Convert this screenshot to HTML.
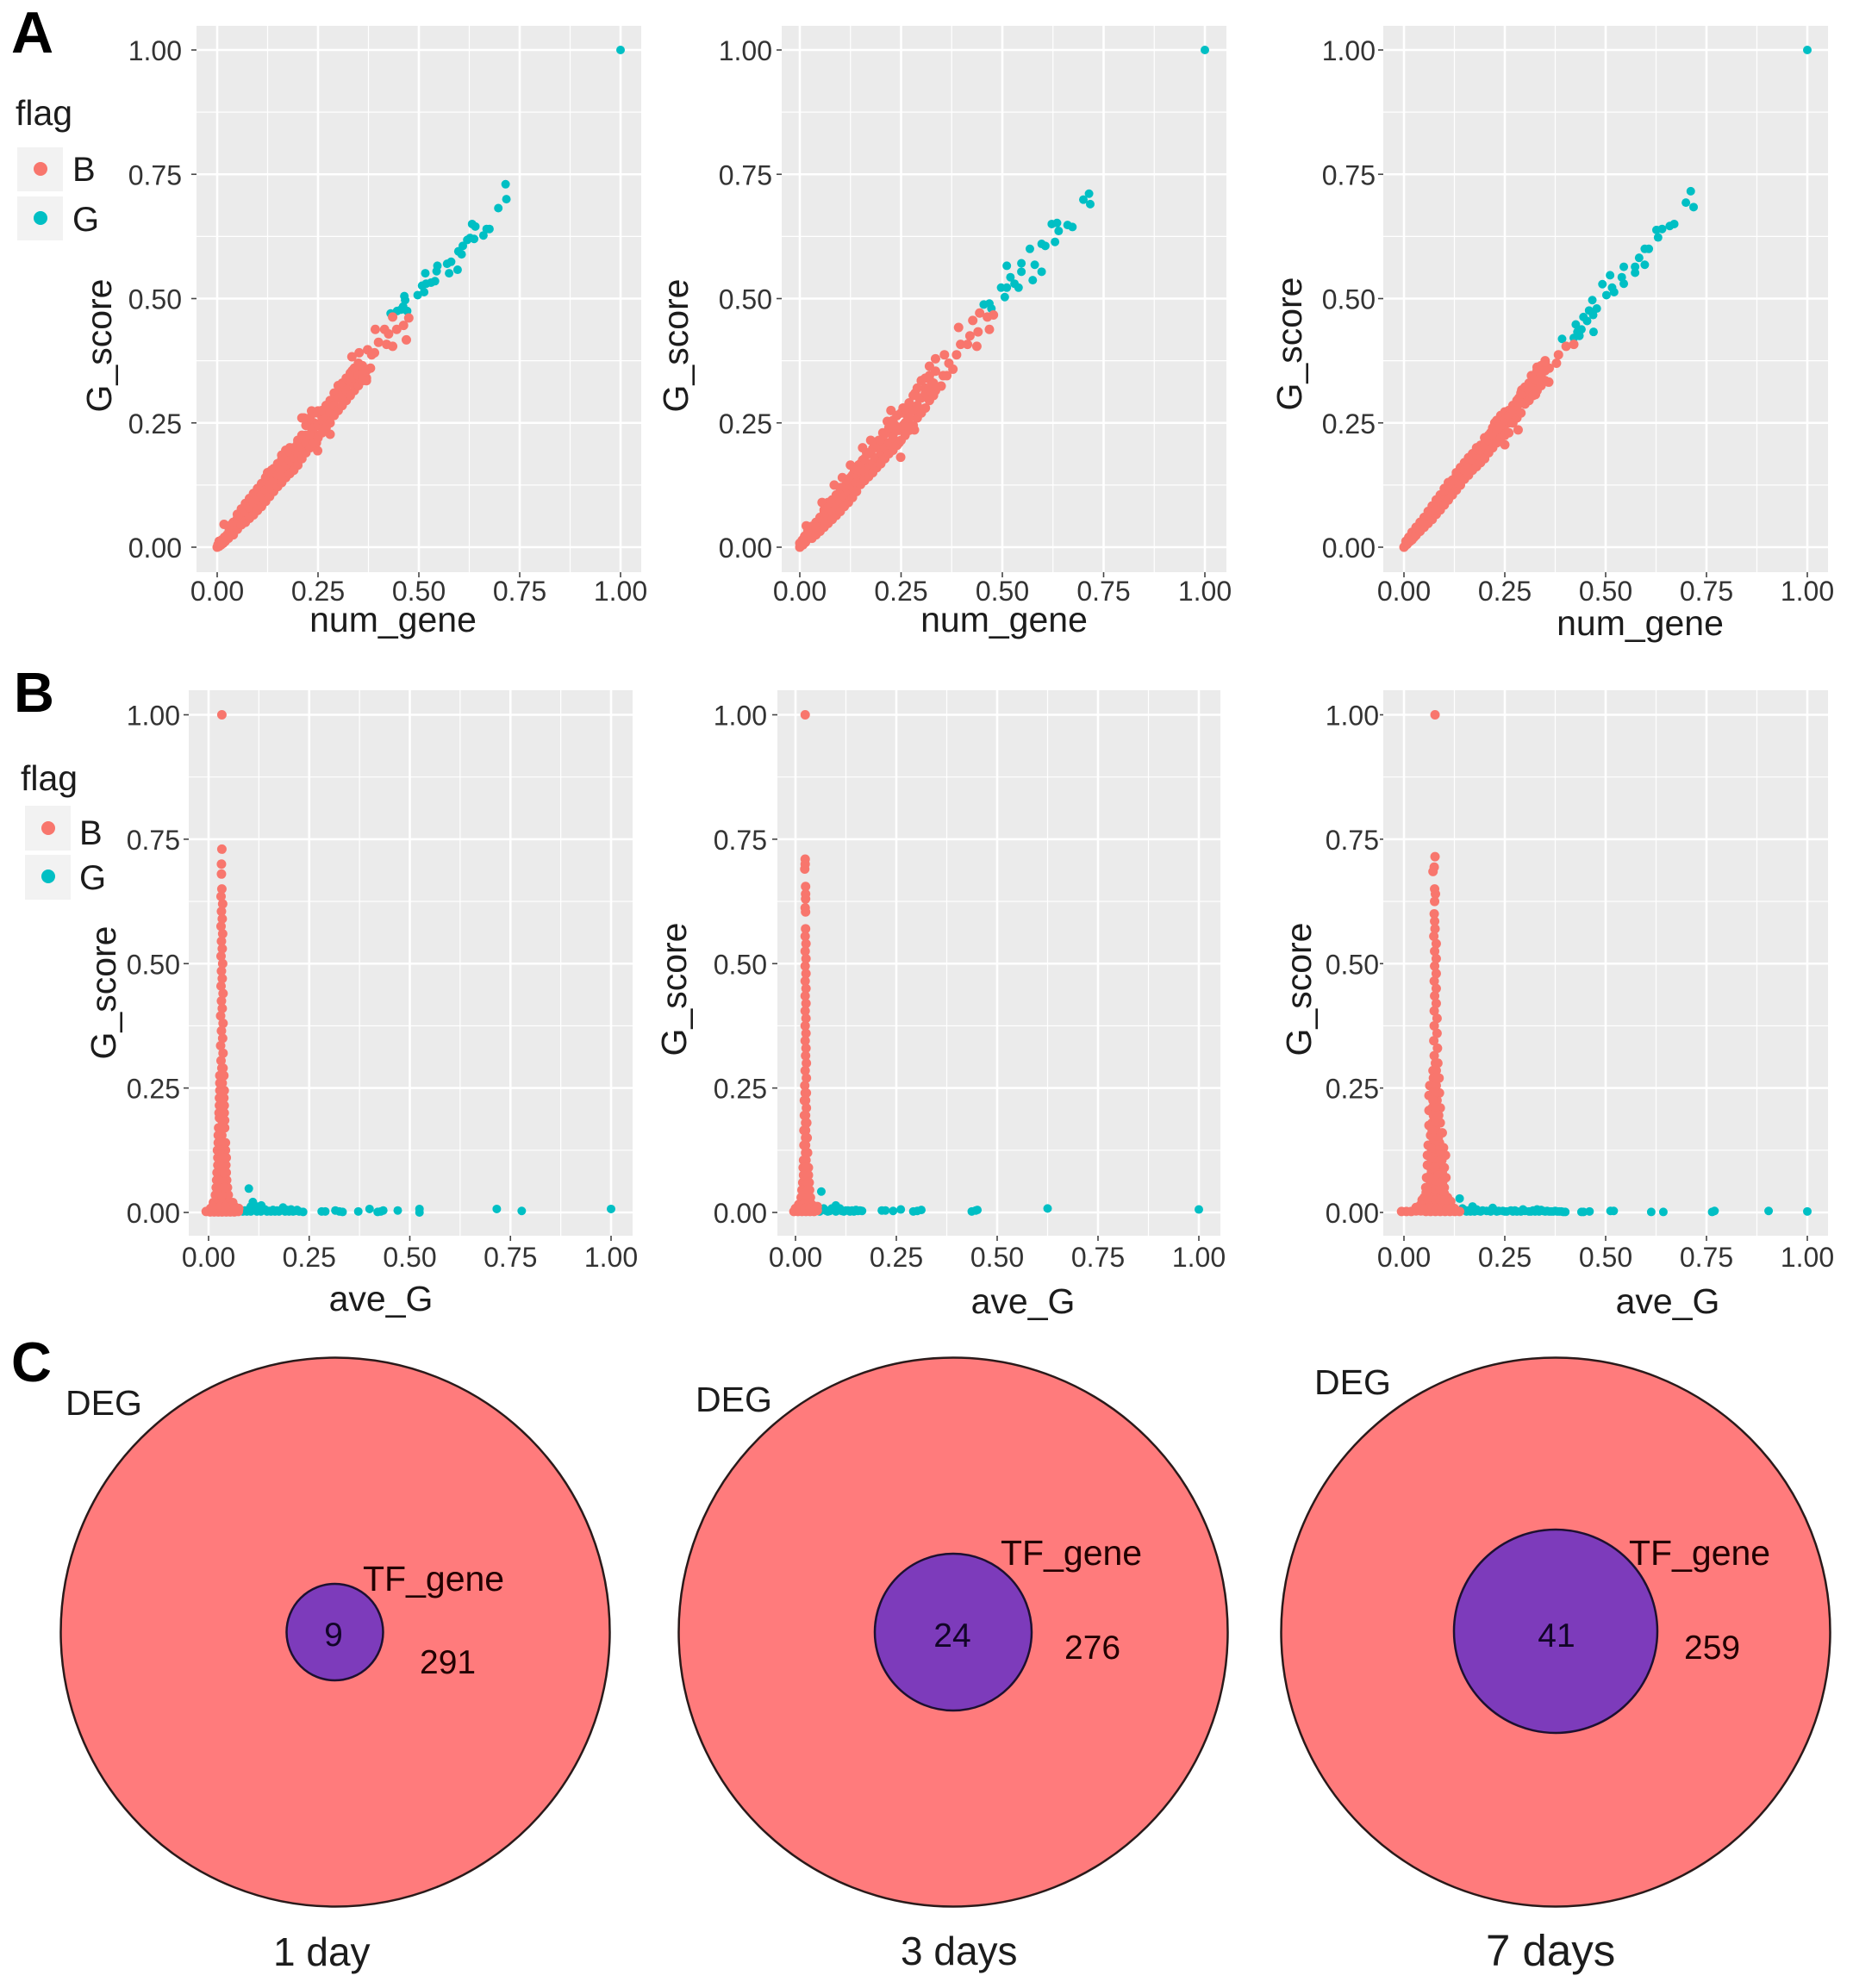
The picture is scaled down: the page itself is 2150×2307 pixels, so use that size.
<!DOCTYPE html>
<html lang="en">
<head>
<meta charset="utf-8">
<title>G_score scatter plots and DEG / TF_gene Venn diagrams</title>
<style>
html,body{margin:0;padding:0;background:#fff;}
svg{display:block;font-family:"Liberation Sans",Arial,sans-serif;}
.t{fill:#1c1c1c;}
.tick{fill:#333;font-size:32px;}
</style>
</head>
<body>
<svg id="figure" xmlns="http://www.w3.org/2000/svg" width="2150" height="2307" viewBox="0 0 2150 2307">
<rect x="0" y="0" width="2150" height="2307" fill="#fff"/>
<g id="plots"></g>

<text x="13" y="61" font-size="68" font-weight="bold" fill="#000">A</text>
<text x="16" y="826" font-size="65" font-weight="bold" fill="#000">B</text>
<text x="13" y="1603" font-size="65" font-weight="bold" fill="#000">C</text>

<g>
<text class="t" x="18" y="145" font-size="41">flag</text>
<rect x="20" y="171" width="53" height="51" fill="#f2f2f2"/>
<rect x="20" y="228" width="53" height="51" fill="#f2f2f2"/>
<circle cx="47" cy="196" r="8" fill="#F8766D"/>
<circle cx="47" cy="253" r="8" fill="#00BFC4"/>
<text class="t" x="84" y="210" font-size="40">B</text>
<text class="t" x="84" y="268" font-size="40">G</text>
</g>
<g>
<text class="t" x="24" y="917" font-size="41">flag</text>
<rect x="29" y="935" width="53" height="52" fill="#f2f2f2"/>
<rect x="29" y="992" width="53" height="52" fill="#f2f2f2"/>
<circle cx="56" cy="961" r="8" fill="#F8766D"/>
<circle cx="56" cy="1017" r="8" fill="#00BFC4"/>
<text class="t" x="92" y="980" font-size="40">B</text>
<text class="t" x="92" y="1032" font-size="40">G</text>
</g>

<text class="t" x="456" y="733" font-size="41" text-anchor="middle">num_gene</text>
<text class="t" x="1165" y="733" font-size="41" text-anchor="middle">num_gene</text>
<text class="t" x="1903" y="737" font-size="41" text-anchor="middle">num_gene</text>
<text class="t" font-size="41" text-anchor="middle" transform="translate(129,401) rotate(-90)">G_score</text>
<text class="t" font-size="41" text-anchor="middle" transform="translate(798,401) rotate(-90)">G_score</text>
<text class="t" font-size="41" text-anchor="middle" transform="translate(1510,399) rotate(-90)">G_score</text>

<text class="t" x="442" y="1521" font-size="41" text-anchor="middle">ave_G</text>
<text class="t" x="1187" y="1524" font-size="41" text-anchor="middle">ave_G</text>
<text class="t" x="1935" y="1524" font-size="41" text-anchor="middle">ave_G</text>
<text class="t" font-size="41" text-anchor="middle" transform="translate(134,1152) rotate(-90)">G_score</text>
<text class="t" font-size="41" text-anchor="middle" transform="translate(796,1148) rotate(-90)">G_score</text>
<text class="t" font-size="41" text-anchor="middle" transform="translate(1521,1148) rotate(-90)">G_score</text>

<g>
<circle cx="389" cy="1894" r="318.5" fill="#FF7B7C" stroke="#2a1a1a" stroke-width="2.5"/>
<circle cx="388.5" cy="1894" r="56" fill="#7D3BBB" stroke="#1d1030" stroke-width="2.5"/>
<text class="t" x="76" y="1642" font-size="41">DEG</text>
<text x="421" y="1846" font-size="41" fill="#200">TF_gene</text>
<text x="387" y="1910" font-size="39" text-anchor="middle" fill="#120528">9</text>
<text x="487" y="1942" font-size="39" fill="#200">291</text>
<text class="t" x="317" y="2281" font-size="46">1 day</text>
</g>
<g>
<circle cx="1106" cy="1894" r="318.5" fill="#FF7B7C" stroke="#2a1a1a" stroke-width="2.5"/>
<circle cx="1106" cy="1894" r="91" fill="#7D3BBB" stroke="#1d1030" stroke-width="2.5"/>
<text class="t" x="807" y="1638" font-size="41">DEG</text>
<text x="1161" y="1816" font-size="41" fill="#200">TF_gene</text>
<text x="1105" y="1911" font-size="39" text-anchor="middle" fill="#120528">24</text>
<text x="1235" y="1925" font-size="39" fill="#200">276</text>
<text class="t" x="1045" y="2280" font-size="46">3 days</text>
</g>
<g>
<circle cx="1805" cy="1894" r="318.5" fill="#FF7B7C" stroke="#2a1a1a" stroke-width="2.5"/>
<circle cx="1805" cy="1893" r="118" fill="#7D3BBB" stroke="#1d1030" stroke-width="2.5"/>
<text class="t" x="1525" y="1618" font-size="41">DEG</text>
<text x="1890" y="1816" font-size="41" fill="#200">TF_gene</text>
<text x="1806" y="1911" font-size="39" text-anchor="middle" fill="#120528">41</text>
<text x="1954" y="1925" font-size="39" fill="#200">259</text>
<text class="t" x="1724" y="2281" font-size="51">7 days</text>
</g>
</svg>

<script>
const tickValues = [0, 0.25, 0.5, 0.75, 1];
const tickLabels = ['0.00', '0.25', '0.50', '0.75', '1.00'];
const minorValues = [0.125, 0.375, 0.625, 0.875];

const a1Teal = [[1,1],[.715,.73],[.717,.70],[.697,.682],[.632,.65],[.64,.645],[.668,.64],[.675,.64],[.66,.627],[.627,.622],[.637,.62],[.62,.618],[.609,.606],[.598,.595],[.606,.589],[.58,.574],[.57,.57],[.546,.566],[.575,.551],[.596,.558],[.544,.555],[.516,.551],[.54,.535],[.518,.53],[.508,.526],[.53,.532],[.513,.513],[.497,.507],[.464,.505],[.466,.497],[.461,.484],[.471,.475],[.446,.475],[.43,.47],[.456,.478]];
const a1Red = [[.475,.461],[.462,.446],[.469,.417],[.435,.463],[.392,.438],[.415,.438],[.425,.429],[.445,.438],[.40,.412],[.42,.408],[.435,.404],[.373,.397],[.352,.391],[.334,.383],[.383,.387],[.39,.391],[.38,.36],[.37,.34],[.365,.35],[.355,.335],[.35,.36],[.34,.315],[.345,.34],[.335,.355],[.33,.33],[.325,.305],[.32,.33],[.31,.30],[.305,.32],[.30,.28],[.29,.295],[.285,.27],[.28,.227],[.27,.285],[.275,.25],[.26,.26],[.255,.245],[.25,.27],[.249,.194],[.246,.21],[.245,.225],[.24,.25],[.234,.274],[.235,.235],[.225,.21],[.22,.225],[.215,.26],[.21,.26],[.21,.205],[.215,.19],[.20,.18],[.20,.215],[.195,.195],[.19,.17],[.185,.19],[.18,.16],[.18,.2],[.175,.175],[.17,.15],[.17,.195],[.165,.17],[.16,.135],[.16,.185],[.155,.15],[.15,.125],[.15,.165],[.145,.14],[.14,.115],[.135,.13],[.135,.155],[.125,.15],[.13,.105],[.125,.115],[.12,.095],[.12,.135],[.115,.105],[.11,.085],[.11,.12],[.105,.095],[.10,.075],[.10,.108],[.095,.085],[.09,.066],[.09,.098],[.085,.075],[.08,.058],[.08,.086],[.075,.066],[.07,.05],[.07,.076],[.065,.058],[.06,.048],[.06,.066],[.055,.05],[.05,.04],[.05,.058],[.045,.05],[.04,.03],[.04,.04],[.035,.026],[.03,.034],[.028,.018],[.025,.025],[.02,.012],[.018,.02],[.017,.046],[.015,.008],[.012,.015],[.01,.005],[.005,.012],[.005,.002],[.002,.005],[0,0]];
const a1RedDense = [[.03,.022],[.03,.04],[.035,.03],[.035,.045],[.04,.025],[.04,.05],[.05,.036],[.05,.05],[.05,.066],[.06,.045],[.06,.06],[.06,.077],[.07,.052],[.07,.07],[.07,.088],[.08,.06],[.08,.08],[.08,.098],[.09,.065],[.09,.09],[.09,.108],[.10,.074],[.10,.095],[.10,.118],[.11,.082],[.11,.105],[.11,.128],[.12,.092],[.12,.115],[.12,.14],[.13,.102],[.13,.125],[.13,.15],[.14,.112],[.14,.135],[.14,.158],[.15,.122],[.15,.145],[.15,.168],[.16,.13],[.16,.155],[.16,.176],[.17,.14],[.17,.165],[.17,.185],[.18,.148],[.18,.175],[.18,.192],[.19,.155],[.19,.18],[.19,.2],[.20,.165],[.20,.188],[.20,.21],[.21,.178],[.21,.2],[.21,.225],[.22,.19],[.22,.21],[.22,.245],[.23,.2],[.23,.225],[.23,.26],[.24,.21],[.24,.24],[.24,.27],[.25,.22],[.25,.245],[.25,.274],[.26,.23],[.26,.255],[.26,.275],[.27,.24],[.27,.26],[.27,.28],[.28,.25],[.28,.27],[.28,.295],[.29,.265],[.29,.285],[.29,.31],[.30,.275],[.30,.3],[.30,.325],[.31,.285],[.31,.305],[.31,.33],[.32,.295],[.32,.315],[.32,.34],[.33,.305],[.33,.33],[.33,.35],[.34,.325],[.34,.34],[.34,.36],[.35,.325],[.35,.345],[.35,.37],[.36,.335],[.36,.35],[.36,.365],[.37,.335],[.37,.355]];

const a2Teal = [[1,1],[.714,.711],[.70,.699],[.717,.69],[.673,.644],[.661,.648],[.635,.652],[.622,.65],[.639,.636],[.63,.614],[.606,.606],[.597,.61],[.568,.60],[.58,.568],[.575,.537],[.597,.554],[.547,.571],[.547,.554],[.511,.566],[.52,.543],[.53,.53],[.54,.522],[.497,.522],[.511,.522],[.506,.503],[.454,.488],[.468,.49],[.473,.48]];
const a2Red = [[.478,.467],[.463,.463],[.444,.471],[.427,.456],[.468,.438],[.392,.442],[.44,.433],[.42,.425],[.397,.408],[.437,.404],[.414,.408],[.387,.387],[.357,.387],[.335,.379],[.32,.364],[.368,.37],[.378,.358],[.354,.345],[.335,.354],[.363,.345],[.349,.324],[.325,.332],[.31,.32],[.335,.315],[.30,.335],[.295,.30],[.285,.31],[.28,.28],[.29,.27],[.27,.29],[.265,.265],[.283,.236],[.255,.28],[.255,.245],[.249,.181],[.245,.21],[.245,.235],[.24,.265],[.235,.245],[.225,.275],[.23,.225],[.216,.253],[.22,.24],[.215,.21],[.205,.23],[.20,.195],[.195,.215],[.185,.18],[.185,.205],[.175,.215],[.175,.19],[.165,.165],[.165,.19],[.155,.2],[.155,.175],[.15,.145],[.145,.165],[.14,.135],[.135,.155],[.125,.165],[.13,.125],[.125,.14],[.115,.11],[.115,.135],[.105,.14],[.105,.095],[.10,.12],[.095,.085],[.09,.105],[.085,.125],[.085,.08],[.08,.095],[.07,.065],[.07,.09],[.06,.052],[.06,.075],[.055,.09],[.05,.045],[.05,.06],[.04,.033],[.04,.05],[.03,.026],[.03,.042],[.022,.018],[.02,.032],[.016,.043],[.014,.01],[.012,.022],[.008,.005],[.006,.014],[.002,.002],[0,.008],[0,0]];
const a2RedDense = [[.03,.018],[.03,.03],[.04,.025],[.04,.04],[.05,.032],[.05,.059],[.06,.04],[.06,.055],[.06,.068],[.07,.048],[.07,.063],[.07,.08],[.08,.056],[.08,.072],[.08,.09],[.09,.064],[.09,.082],[.09,.102],[.10,.072],[.10,.092],[.10,.114],[.11,.082],[.11,.102],[.11,.122],[.12,.09],[.12,.11],[.12,.132],[.13,.1],[.13,.12],[.13,.145],[.14,.112],[.14,.13],[.14,.156],[.15,.126],[.15,.168],[.16,.134],[.16,.152],[.16,.178],[.17,.142],[.17,.16],[.17,.188],[.18,.15],[.18,.17],[.18,.198],[.19,.16],[.19,.18],[.19,.206],[.20,.168],[.20,.19],[.20,.215],[.21,.178],[.21,.2],[.21,.228],[.22,.188],[.22,.21],[.22,.24],[.23,.195],[.23,.22],[.23,.255],[.24,.205],[.24,.235],[.24,.265],[.25,.215],[.25,.24],[.25,.27],[.26,.225],[.26,.25],[.26,.278],[.27,.235],[.27,.26],[.27,.29],[.28,.245],[.28,.275],[.28,.305],[.29,.26],[.29,.285],[.29,.32],[.30,.27],[.30,.3],[.30,.335],[.31,.28],[.31,.31],[.31,.34],[.32,.295],[.32,.32],[.32,.345],[.33,.305],[.33,.33]];

const a3Teal = [[1,1],[.711,.716],[.699,.693],[.718,.684],[.67,.65],[.659,.646],[.64,.64],[.626,.638],[.63,.623],[.607,.60],[.597,.6],[.583,.582],[.597,.568],[.573,.564],[.573,.552],[.545,.564],[.54,.543],[.511,.547],[.492,.529],[.516,.522],[.545,.53],[.502,.507],[.521,.513],[.467,.497],[.478,.48],[.459,.476],[.469,.467],[.47,.433],[.445,.463],[.426,.448],[.43,.433],[.44,.438],[.392,.419],[.421,.421],[.454,.455],[.435,.425]];
const a3Red = [[.421,.408],[.402,.404],[.383,.387],[.378,.37],[.35,.375],[.36,.36],[.33,.362],[.359,.332],[.316,.345],[.34,.335],[.292,.316],[.326,.307],[.33,.35],[.31,.325],[.30,.30],[.285,.30],[.28,.28],[.283,.236],[.27,.285],[.27,.265],[.25,.206],[.26,.275],[.26,.25],[.25,.265],[.25,.235],[.24,.255],[.235,.23],[.225,.25],[.225,.225],[.215,.23],[.21,.205],[.20,.22],[.20,.195],[.19,.205],[.19,.18],[.18,.2],[.18,.175],[.17,.185],[.165,.16],[.16,.18],[.155,.15],[.15,.17],[.145,.14],[.14,.16],[.135,.13],[.13,.15],[.125,.12],[.12,.135],[.115,.11],[.11,.13],[.105,.10],[.10,.118],[.095,.09],[.09,.105],[.085,.08],[.08,.095],[.075,.07],[.07,.083],[.065,.06],[.06,.072],[.055,.05],[.05,.06],[.045,.04],[.04,.05],[.035,.03],[.03,.04],[.025,.02],[.02,.03],[.015,.012],[.012,.02],[.008,.006],[.005,.012],[.002,.002],[0,0]];
const a3RedDense = [[.02,.015],[.03,.024],[.03,.038],[.04,.032],[.04,.046],[.05,.04],[.05,.052],[.06,.048],[.06,.063],[.07,.056],[.07,.075],[.08,.066],[.08,.085],[.08,.075],[.09,.075],[.09,.095],[.10,.085],[.10,.105],[.10,.112],[.11,.095],[.11,.115],[.11,.122],[.12,.105],[.12,.125],[.13,.115],[.13,.135],[.13,.145],[.14,.125],[.14,.145],[.14,.158],[.15,.137],[.15,.155],[.16,.145],[.16,.165],[.16,.178],[.17,.155],[.17,.175],[.17,.188],[.18,.162],[.18,.185],[.18,.196],[.19,.17],[.19,.195],[.19,.203],[.20,.178],[.20,.205],[.20,.21],[.21,.19],[.21,.215],[.21,.225],[.22,.2],[.22,.225],[.22,.24],[.23,.21],[.23,.235],[.23,.255],[.24,.22],[.24,.245],[.24,.265],[.25,.225],[.25,.255],[.25,.272],[.26,.23],[.26,.265],[.27,.25],[.27,.275],[.28,.26],[.28,.295],[.29,.27],[.29,.29],[.29,.31],[.30,.288],[.30,.322],[.31,.295],[.31,.315],[.31,.33],[.32,.305],[.32,.325],[.32,.34],[.33,.315],[.33,.335],[.33,.355],[.34,.325],[.34,.345],[.34,.365],[.35,.335],[.35,.355],[.35,.372]];

const b1Teal = [[.10,.048],[.11,.021],[.131,.014],[.09,.004],[.10,.006],[.115,.005],[.125,.004],[.14,.006],[.15,.003],[.16,.005],[.17,.004],[.185,.01],[.195,.005],[.205,.006],[.215,.003],[.225,.002],[.235,.001],[.281,.002],[.29,.002],[.315,.004],[.325,.002],[.333,.001],[.372,.002],[.40,.007],[.42,.001],[.428,.002],[.434,.004],[.47,.004],[.524,.007],[.524,0],[.716,.007],[.778,.003],[1,.007]];
const b1TealDense = [[.085,.002],[.095,.002],[.105,.012],[.105,.002],[.12,.012],[.12,.002],[.13,.002],[.135,.008],[.145,.002],[.155,.002],[.165,.002],[.175,.002],[.18,.004],[.19,.002],[.2,.002],[.21,.002],[.22,.005]];
const b1Red = [[.033,1],[.033,.73],[.032,.70],[.032,.68],[.033,.65],[.031,.635],[.035,.62],[.032,.605],[.034,.59],[.031,.575],[.035,.56],[.032,.545],[.034,.53],[.031,.515],[.035,.50],[.032,.485],[.034,.47],[.031,.455],[.036,.44],[.032,.425],[.034,.41],[.030,.395],[.036,.38],[.032,.365],[.035,.35],[.030,.335],[.036,.32],[.031,.305],[.036,.29],[.028,.275],[.038,.275],[.028,.26],[.034,.26],[.039,.245],[.028,.245],[.027,.23],[.038,.23],[.033,.215],[.027,.215],[.039,.2],[.026,.2],[.033,.185],[.04,.185],[.025,.17],[.04,.17],[.033,.155],[.024,.155],[.042,.14],[.024,.14],[.033,.125],[.042,.125],[.023,.11],[.033,.11],[.043,.095],[.023,.095],[.033,.08],[.021,.08],[.044,.08],[.033,.065],[.02,.065],[.045,.065],[.033,.05],[.019,.05],[.047,.05],[.027,.035],[.04,.035],[.017,.035],[.049,.035],[.024,.02],[.036,.02],[.012,.02],[.048,.02],[.06,.02],[.064,.012],[.005,.008],[.02,.008],[.035,.008],[.05,.008],[.07,.008],[-.006,.002],[.004,.001],[.014,.001],[.024,.001],[.034,.001],[.044,.001],[.054,.001],[.064,.001],[.074,.002]];
const b1RedDense = [[.033,.29],[.033,.275],[.033,.245],[.033,.23],[.033,.2],[.033,.17],[.033,.14],[.033,.095],[.033,.035],[.033,.02],[.027,.19],[.039,.215],[.028,.125],[.038,.11],[.028,.08],[.038,.065],[.028,.05],[.04,.05],[.022,.125],[.044,.11],[.025,.065],[.04,.08],[.015,.02],[.055,.012],[.01,.012],[.03,.012],[.042,.012],[.065,.005],[.075,.008]];

const b2Teal = [[.064,.042],[.10,.014],[.065,.005],[.075,.004],[.085,.003],[.095,.006],[.105,.004],[.115,.003],[.125,.004],[.135,.002],[.15,.005],[.165,.003],[.214,.004],[.223,.004],[.242,.003],[.261,.006],[.292,.002],[.302,.003],[.312,.005],[.437,.002],[.447,.004],[.451,.005],[.625,.008],[1,.006]];
const b2TealDense = [[.06,.002],[.07,.008],[.08,.002],[.09,.008],[.10,.002],[.11,.008],[.12,.002],[.13,.004],[.14,.004],[.145,.002],[.155,.003],[.16,.004]];
const b2Red = [[.024,1],[.024,.71],[.024,.70],[.023,.69],[.025,.655],[.025,.64],[.025,.63],[.024,.612],[.025,.604],[.025,.57],[.024,.555],[.026,.54],[.024,.525],[.026,.51],[.024,.495],[.026,.48],[.024,.465],[.026,.45],[.024,.435],[.026,.42],[.024,.405],[.026,.39],[.024,.375],[.026,.36],[.024,.345],[.026,.33],[.025,.315],[.027,.30],[.024,.285],[.027,.27],[.023,.255],[.027,.24],[.022,.225],[.027,.21],[.022,.195],[.028,.18],[.021,.165],[.029,.15],[.021,.135],[.03,.12],[.02,.105],[.026,.105],[.032,.09],[.019,.09],[.025,.075],[.032,.075],[.018,.06],[.025,.06],[.034,.06],[.016,.045],[.025,.045],[.035,.045],[.014,.03],[.025,.03],[.037,.03],[.008,.016],[.018,.016],[.028,.016],[.04,.016],[.048,.012],[-.004,.002],[.006,.002],[.016,.002],[.026,.002],[.036,.002],[.046,.002],[.054,.004]];
const b2RedDense = [[.024,.24],[.025,.225],[.025,.195],[.025,.18],[.025,.165],[.025,.15],[.025,.135],[.025,.12],[.025,.09],[.02,.075],[.03,.06],[.02,.045],[.03,.045],[.02,.03],[.03,.03],[.02,.016],[.034,.016],[.012,.008],[.024,.008],[.036,.008],[.048,.006],[.054,.012],[0,.008]];

const b3Teal = [[.138,.028],[.17,.012],[.14,.003],[.15,.005],[.16,.004],[.18,.006],[.19,.002],[.205,.003],[.22,.009],[.235,.003],[.25,.002],[.265,.004],[.28,.002],[.295,.006],[.31,.002],[.33,.006],[.345,.003],[.36,.002],[.375,.003],[.39,.002],[.40,.001],[.44,.001],[.445,.001],[.46,.002],[.512,.003],[.52,.003],[.613,.001],[.643,.001],[.764,.001],[.77,.003],[.904,.003],[1,.002]];
const b3TealDense = [[.145,.008],[.155,.002],[.165,.002],[.175,.002],[.185,.003],[.195,.004],[.215,.002],[.225,.004],[.23,.002],[.245,.003],[.255,.002],[.27,.002],[.275,.004],[.29,.002],[.30,.003],[.315,.002],[.32,.004],[.325,.002],[.335,.002],[.34,.005],[.35,.002],[.355,.003],[.365,.002],[.37,.002],[.38,.002],[.385,.002],[.395,.001]];
const b3Red = [[.077,1],[.077,.715],[.075,.694],[.072,.685],[.076,.65],[.078,.64],[.076,.625],[.075,.60],[.076,.585],[.077,.57],[.074,.555],[.08,.54],[.076,.525],[.08,.51],[.076,.495],[.08,.48],[.075,.465],[.08,.45],[.076,.435],[.08,.42],[.075,.405],[.082,.39],[.075,.375],[.082,.36],[.074,.345],[.083,.33],[.075,.315],[.084,.30],[.072,.285],[.08,.285],[.087,.27],[.073,.27],[.064,.255],[.08,.255],[.088,.24],[.062,.235],[.072,.24],[.082,.225],[.07,.21],[.062,.205],[.09,.21],[.08,.195],[.07,.18],[.062,.175],[.09,.18],[.08,.165],[.066,.155],[.095,.16],[.075,.14],[.06,.135],[.088,.14],[.098,.13],[.07,.12],[.058,.115],[.084,.12],[.103,.115],[.094,.105],[.074,.10],[.058,.095],[.085,.09],[.10,.09],[.068,.08],[.056,.07],[.078,.07],[.092,.07],[.104,.07],[.064,.055],[.054,.05],[.076,.055],[.09,.055],[.10,.05],[.07,.035],[.05,.03],[.06,.035],[.08,.035],[.092,.035],[.108,.03],[.116,.022],[.04,.014],[.052,.016],[.064,.016],[.076,.016],[.088,.016],[.10,.016],[.112,.012],[.125,.008],[-.006,.002],[.006,.002],[.018,.002],[.03,.003],[.042,.003],[.054,.002],[.066,.002],[.078,.002],[.09,.002],[.102,.002],[.114,.002],[.126,.002],[.138,.002]];
const b3RedDense = [[.078,.30],[.078,.27],[.078,.24],[.072,.225],[.078,.21],[.086,.195],[.073,.195],[.078,.18],[.07,.165],[.085,.15],[.072,.15],[.08,.135],[.067,.13],[.09,.125],[.08,.11],[.068,.105],[.09,.105],[.066,.09],[.076,.09],[.095,.08],[.085,.075],[.062,.07],[.07,.065],[.082,.06],[.096,.062],[.06,.045],[.07,.045],[.08,.045],[.09,.045],[.1,.038],[.055,.04],[.045,.025],[.06,.025],[.07,.025],[.08,.025],[.09,.025],[.1,.025],[.11,.02],[.03,.01],[.046,.008],[.058,.008],[.07,.008],[.082,.008],[.094,.008],[.106,.008],[.118,.008],[.13,.004]];

const layouts = [
  {left:228, right:744,  top:30,  bottom:664,  x0:252, x1:720,  y0:635,  y1:58,  labelRight:211, xBase:697,  tickInner:222},
  {left:907, right:1423, top:30,  bottom:664,  x0:928, x1:1398, y0:635,  y1:58,  labelRight:896, xBase:697,  tickInner:901},
  {left:1605,right:2121, top:30,  bottom:664,  x0:1629,x1:2097, y0:635,  y1:58,  labelRight:1596,xBase:697,  tickInner:1599},
  {left:219, right:734,  top:801, bottom:1434, x0:242, x1:709,  y0:1407, y1:829.5,labelRight:209, xBase:1470, tickInner:213},
  {left:902, right:1416, top:801, bottom:1434, x0:923, x1:1391, y0:1407, y1:829.5,labelRight:890, xBase:1470, tickInner:896},
  {left:1605,right:2121, top:801, bottom:1434, x0:1629,x1:2097, y0:1407, y1:829.5,labelRight:1600,xBase:1470, tickInner:1601}
];
const panelRed = [a1Red.concat(a1RedDense), a2Red.concat(a2RedDense), a3Red.concat(a3RedDense), b1Red.concat(b1RedDense), b2Red.concat(b2RedDense), b3Red.concat(b3RedDense)];
const panelTeal = [a1Teal, a2Teal, a3Teal, b1Teal.concat(b1TealDense), b2Teal.concat(b2TealDense), b3Teal.concat(b3TealDense)];

const NS = 'http://www.w3.org/2000/svg';
const plots = document.getElementById('plots');

function shape(parent, tag, props) {
  const el = document.createElementNS(NS, tag);
  for (const k in props) el.setAttribute(k, props[k]);
  parent.appendChild(el);
  return el;
}

function drawPanel(cfg, red, teal) {
  const sx = v => cfg.x0 + (cfg.x1 - cfg.x0) * v;
  const sy = v => cfg.y0 + (cfg.y1 - cfg.y0) * v;

  const g = shape(plots, 'g', {});
  
  

  const bg = shape(g, 'rect', {x:cfg.left, y:cfg.top, width:cfg.right-cfg.left, height:cfg.bottom-cfg.top, fill:'#EBEBEB'});
  
  

  minorValues.forEach(v => {
    const gx = shape(g, 'line', {x1:sx(v), x2:sx(v), y1:cfg.top, y2:cfg.bottom, stroke:'#fff', 'stroke-width':1.2});
    
    
    const gy = shape(g, 'line', {x1:cfg.left, x2:cfg.right, y1:sy(v), y2:sy(v), stroke:'#fff', 'stroke-width':1.2});
    
    
  });

  tickValues.forEach((v, i) => {
    const gx = shape(g, 'line', {x1:sx(v), x2:sx(v), y1:cfg.top, y2:cfg.bottom, stroke:'#fff', 'stroke-width':2.6});
    
    
    const gy = shape(g, 'line', {x1:cfg.left, x2:cfg.right, y1:sy(v), y2:sy(v), stroke:'#fff', 'stroke-width':2.6});
    
    
    const tx = shape(g, 'line', {x1:sx(v), x2:sx(v), y1:cfg.bottom, y2:cfg.bottom+6, stroke:'#444', 'stroke-width':1.6});
    
    
    const ty = shape(g, 'line', {x1:cfg.tickInner, x2:cfg.left, y1:sy(v), y2:sy(v), stroke:'#444', 'stroke-width':1.6});
    
    

    const lx = shape(g, 'text', {class:'tick', x:sx(v), y:cfg.xBase, 'text-anchor':'middle'});
    
    
    lx.textContent = tickLabels[i];
    const ly = shape(g, 'text', {class:'tick', x:cfg.labelRight, y:sy(v)+12, 'text-anchor':'end'});
    
    
    ly.textContent = tickLabels[i];
  });

  teal.forEach(p => {
    const c = shape(g, 'circle', {cx:sx(p[0]), cy:sy(p[1]), r:5, fill:'#00BFC4'});
    
    
  });
  red.forEach(p => {
    const c = shape(g, 'circle', {cx:sx(p[0]), cy:sy(p[1]), r:5.5, fill:'#F8766D'});
    
    
  });
}

layouts.forEach((cfg, i) => drawPanel(cfg, panelRed[i], panelTeal[i]));
</script>
</body>
</html>
